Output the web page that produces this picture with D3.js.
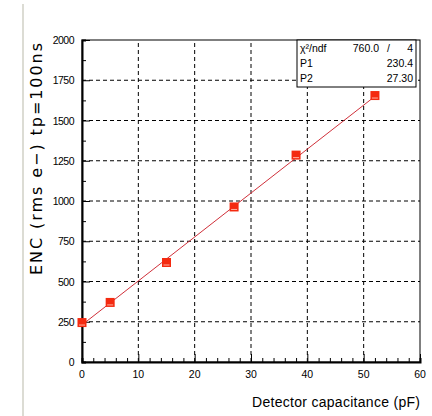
<!DOCTYPE html>
<html>
<head>
<meta charset="utf-8">
<script src="https://cdn.jsdelivr.net/npm/d3@7"></script>
<style>
  body { margin: 0; background: #fff; }
  svg { display: block; }
  text { font-family: "Liberation Sans", Arial, sans-serif; fill: #000; }
</style>
</head>
<body>
<svg id="chart" width="432" height="416"></svg>
<script>
// measured points
const capacitance = [0, 5, 15, 27, 38, 52];
const enc = [245, 370, 618, 963, 1285, 1655];
// fit results p1 + p2*x
const fitP1 = 230.4;
const fitP2 = 27.30;
const fitRange = [0, 52];
const xTicks = [0, 10, 20, 30, 40, 50, 60];
const yTicks = [0, 250, 500, 750, 1000, 1250, 1500, 1750, 2000];
const statsRows = [["χ²/ndf", "760.0", "/", "4"], ["P1", "", "", "230.4"], ["P2", "", "", "27.30"]];

const svg = d3.select('#chart');
const mLeft = 82, mRight = 420, mTop = 40, mBottom = 362;

const x = d3.scaleLinear().domain([0, 60]).range([mLeft, mRight]);
const y = d3.scaleLinear().domain([0, 2000]).range([mBottom, mTop]);

// page border line on the left
svg.append('rect').attr('x', 22).attr('y', 4).attr('width', 2).attr('height', 412).attr('fill', '#dcdcd4');

// grid
const grid = svg.append('g').attr('stroke', '#000').attr('stroke-width', 1).attr('stroke-dasharray', '4,3');
grid.selectAll('.gx').data(xTicks.slice(1, -1)).join('line')
    .attr('x1', d => x(d)).attr('x2', d => x(d)).attr('y1', mBottom).attr('y2', mTop);
grid.selectAll('.gy').data(yTicks.slice(1, -1)).join('line')
    .attr('x1', mLeft).attr('x2', mRight).attr('y1', d => y(d)).attr('y2', d => y(d));

// frame
svg.append('rect').attr('x', mLeft).attr('y', mTop).attr('width', mRight - mLeft).attr('height', mBottom - mTop)
    .attr('fill', 'none').attr('stroke', '#000').attr('stroke-width', 1);

// axes, ticks inside
const xAxis = d3.axisBottom(x).tickValues(d3.range(0, 61, 2)).tickSize(-4).tickFormat('');
const gx = svg.append('g').attr('transform', `translate(0,${mBottom})`).call(xAxis);
gx.selectAll('.tick line').filter(d => d % 10 === 0).attr('y2', -8);
const yAxis = d3.axisLeft(y).tickValues(d3.range(0, 2001, 125)).tickSize(-4).tickFormat('');
const gy = svg.append('g').attr('transform', `translate(${mLeft},0)`).call(yAxis);
gy.selectAll('.tick line').filter(d => d % 250 === 0).attr('x2', 8);
[gx, gy].forEach(g => {
  g.select('.domain').attr('stroke-width', 2).attr('stroke', '#000');
  g.selectAll('.tick line').attr('stroke', '#000');
});

// tick labels
svg.append('g').selectAll('text').data(xTicks).join('text')
    .attr('x', d => x(d)).attr('y', mBottom + 16).attr('text-anchor', 'middle')
    .attr('font-size', 10.5).text(d => d);
svg.append('g').selectAll('text').data(yTicks).join('text')
    .attr('x', mLeft - 8).attr('y', d => y(d) + 4).attr('text-anchor', 'end')
    .attr('font-size', 10.5).attr('letter-spacing', -0.5).text(d => d);

// axis titles
svg.append('text').attr('x', mRight - 168).attr('y', 407)
    .attr('font-size', 14).attr('textLength', 168).attr('lengthAdjust', 'spacing')
    .text('Detector capacitance (pF)');
svg.append('text').attr('transform', `translate(42,${mTop + 235}) rotate(-90)`)
    .style('font-family', '"DejaVu Sans", sans-serif')
    .attr('font-size', 16).attr('textLength', 232).attr('lengthAdjust', 'spacing')
    .text('ENC (rms e\u2212) tp=100ns');

// fit line
svg.append('line')
    .attr('x1', x(fitRange[0])).attr('y1', y(fitP1 + fitP2 * fitRange[0]))
    .attr('x2', x(fitRange[1])).attr('y2', y(fitP1 + fitP2 * fitRange[1]))
    .attr('stroke', '#d0303a').attr('stroke-width', 1);

// markers
const pts = svg.append('g').selectAll('g').data(capacitance.map((c, i) => [c, enc[i]])).join('g')
    .attr('transform', d => `translate(${x(d[0])},${y(d[1])})`);
pts.append('rect').attr('x', -4.5).attr('y', -4.5).attr('width', 9).attr('height', 9).attr('fill', '#f42a10');
pts.append('line').attr('x1', -3).attr('x2', 3).attr('y1', 2.5).attr('y2', 2.5)
    .attr('stroke', '#ffb0a0').attr('stroke-width', 1);

// stats box
const bx = 297, by = mTop, bw = 119, bh = 47;
svg.append('rect').attr('x', bx).attr('y', by).attr('width', bw).attr('height', bh)
    .attr('fill', '#fff').attr('stroke', '#000').attr('stroke-width', 1);
const rows = svg.append('g').selectAll('g').data(statsRows).join('g')
    .attr('transform', (d, i) => `translate(0,${by + 12 + i * 15})`);
rows.append('text').attr('x', bx + 3).attr('font-size', 10.5).text(d => d[0]);
rows.append('text').attr('x', bx + 82).attr('text-anchor', 'end').attr('font-size', 10.5).text(d => d[1]);
rows.append('text').attr('x', bx + 90).attr('font-size', 10.5).text(d => d[2]);
rows.append('text').attr('x', bx + bw - 3).attr('text-anchor', 'end').attr('font-size', 10.5).text(d => d[3]);
</script>
</body>
</html>
